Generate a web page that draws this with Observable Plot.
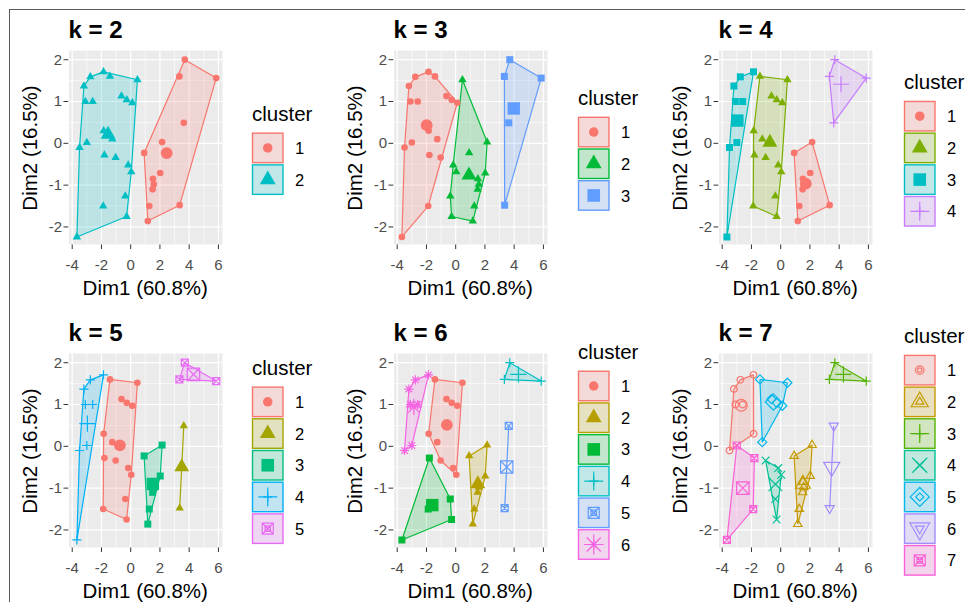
<!DOCTYPE html>
<html><head><meta charset="utf-8">
<script src="https://cdn.jsdelivr.net/npm/d3@7"></script>
<script src="https://cdn.jsdelivr.net/npm/@observablehq/plot@0.6"></script>
<style>
html,body{margin:0;padding:0;background:#fff;}
#root{position:relative;width:965px;height:602px;overflow:hidden;font-family:"Liberation Sans",Arial,sans-serif;}
.panel{position:absolute;width:240px;height:302px;}
.panel svg g[aria-label="x-axis tick label"], .panel svg g[aria-label="y-axis tick label"]{fill:#4D4D4D;}
#frame{position:absolute;left:9px;top:9px;width:1000px;height:700px;border-top:1.5px solid #5a5a5a;border-left:1.5px solid #5a5a5a;}
</style></head>
<body><div id="root"><div id="frame"></div></div>
<script>
// ---- data: PCA coordinates of the 35 observations ----
const dim1 = [-3.20,-2.76,-1.86,-3.10,-2.60,-1.85,-3.50,-3.00,-3.68,-1.80,-1.88,-1.42,0.46,-0.63,-0.27,0.11,-1.26,-1.03,-0.17,0.04,-0.37,-0.28,0.92,2.15,2.02,1.52,1.58,1.50,1.27,1.17,3.70,3.33,5.85,3.63,3.35];
const dim2 = [1.37,1.59,1.71,1.00,1.00,0.30,-0.10,0.02,-2.24,-0.28,-1.50,1.60,1.52,1.13,1.04,0.97,0.10,-0.34,-0.52,-0.68,-1.26,-1.75,-0.23,0.03,-0.71,-0.85,-0.98,-1.10,-1.50,-1.86,2.00,1.60,1.56,0.49,-1.48];
// ---- cluster assignments for each k ----
const clustersK2 = [2,2,2,2,2,2,2,2,2,2,2,2,2,2,2,2,2,2,2,2,2,2,1,1,1,1,1,1,1,1,1,1,1,1,1];
const clustersK3 = [1,1,1,1,1,1,1,1,1,1,1,1,2,1,1,1,1,1,2,2,2,2,2,2,2,2,2,2,2,2,3,3,3,3,3];
const clustersK4 = [3,3,3,3,3,2,3,3,3,2,2,2,2,2,2,2,2,2,2,2,2,2,1,1,1,1,1,1,1,1,4,4,4,4,1];
const clustersK5 = [4,4,4,4,4,1,4,4,4,1,1,1,1,1,1,1,1,1,1,1,1,1,3,3,3,3,3,3,3,3,5,5,5,2,2];
const clustersK6 = [6,6,6,6,6,1,6,6,3,3,3,1,1,1,1,1,1,1,1,1,3,3,2,2,2,2,2,2,2,2,4,4,4,5,5];
const clustersK7 = [1,1,1,1,1,1,1,7,7,7,7,5,5,5,5,5,5,4,4,4,4,4,2,2,2,2,2,2,2,2,3,3,3,6,6];
// ---- ticks ----
const tickX = [-4,-2,0,2,4,6];
const tickY = [-2,-1,0,1,2];
const minorX = [-3,-1,1,3,5];
const minorY = [-1.5,-0.5,0.5,1.5];
const xTitle = "Dim1 (60.8%)";
const yTitle = "Dim2 (16.5%)";
const legendTitle = "cluster";
// ---- palettes ----
const palettes = {
  2: ["#F8766D","#00BFC4"],
  3: ["#F8766D","#00BA38","#619CFF"],
  4: ["#F8766D","#7CAE00","#00BFC4","#C77CFF"],
  5: ["#F8766D","#A3A500","#00BF7D","#00B0F6","#E76BF3"],
  6: ["#F8766D","#B79F00","#00BA38","#00BFC4","#619CFF","#F564E3"],
  7: ["#F8766D","#C49A00","#53B400","#00C094","#00B6EB","#A58AFF","#FB61D7"]
};

// ---- symbol shapes (ggplot pch look-alikes) ----
const tri = (c,R,down)=>{const s=down?-1:1; c.moveTo(0,-R*s); c.lineTo(0.866*R,0.5*R*s); c.lineTo(-0.866*R,0.5*R*s); c.closePath();};
const circ = (c,r)=>{const a=0.95*r; c.moveTo(a,0); c.arc(0,0,a,0,2*Math.PI); c.closePath();};
const SHAPES = {
  circleF:{fill:true, f:circ, lg:[5.0]},
  triangleF:{fill:true, f:(c,r)=>tri(c,1.386*r,false), lg:[6.6]},
  squareF:{fill:true, f:(c,r)=>c.rect(-r,-r,2*r,2*r), lg:[6.3]},
  plus:{fill:false, f:(c,r)=>{const a=1.3*r; c.moveTo(-a,0); c.lineTo(a,0); c.moveTo(0,-a); c.lineTo(0,a);}, lg:[3.4,7.3]},
  times:{fill:false, f:(c,r)=>{const b=1.1*r; c.moveTo(-b,-b); c.lineTo(b,b); c.moveTo(-b,b); c.lineTo(b,-b);}, lg:[3.4,6.8]},
  boxX:{fill:false, f:(c,r)=>{c.rect(-r,-r,2*r,2*r); c.moveTo(-r,-r); c.lineTo(r,r); c.moveTo(-r,r); c.lineTo(r,-r);}, lg:[2.7,5.5]},
  asterisk:{fill:false, f:(c,r)=>{const a=1.3*r, b=0.92*r; c.moveTo(-a,0); c.lineTo(a,0); c.moveTo(0,-a); c.lineTo(0,a); c.moveTo(-b,-b); c.lineTo(b,b); c.moveTo(-b,b); c.lineTo(b,-b);}, lg:[3.4,7.6]},
  circleO:{fill:false, f:circ, lg:[2.3,4.5]},
  triangleO:{fill:false, f:(c,r)=>tri(c,1.386*r,false), lg:[3.4,7.1]},
  diamondO:{fill:false, f:(c,r)=>{const a=1.3*r; c.moveTo(0,-a); c.lineTo(a,0); c.lineTo(0,a); c.lineTo(-a,0); c.closePath();}, lg:[3.1,7.3]},
  triangleDownO:{fill:false, f:(c,r)=>tri(c,1.5*r,true), lg:[3.4,7.6]}
};
const plotSymbol = name => ({draw(ctx,size){ SHAPES[name].f(ctx, Math.sqrt(size/Math.PI)); }});
const shapeSetA = ["circleF","triangleF","squareF","plus","boxX","asterisk"];
const shapeSetB = ["circleO","triangleO","plus","times","diamondO","triangleDownO","boxX"];

// ---- layout ----
const panels = [
  {k:2, assign:clustersK2, col:0, row:0},
  {k:3, assign:clustersK3, col:1, row:0},
  {k:4, assign:clustersK4, col:2, row:0},
  {k:5, assign:clustersK5, col:0, row:1},
  {k:6, assign:clustersK6, col:1, row:1},
  {k:7, assign:clustersK7, col:2, row:1}
];
const colLeft = [0, 325, 650];
const rowTop = [0, 303];
const ML = 68.5, MR = 18, MT = 50, MB = 58, W = 240, H = 302;
const GW = W-ML-MR, GH = H-MT-MB;
const legendX = [252, 578, 904];
const legendCY = [150.5, 452];
const FONT = '"Liberation Sans", Arial, sans-serif';

const root = document.getElementById("root");

for (const p of panels) {
  const colors = palettes[p.k];
  const names = p.k <= 6 ? shapeSetA : shapeSetB;
  const rows = dim1.map((x,i)=>({x, y: dim2[i], cluster: p.assign[i]}));
  const ids = d3.range(1, p.k+1);
  const marks = [
    Plot.frame({fill:"#EBEBEB", stroke:"none"}),
    Plot.ruleX(minorX, {stroke:"white", strokeWidth:0.6}),
    Plot.ruleY(minorY, {stroke:"white", strokeWidth:0.6}),
    Plot.ruleX(tickX, {stroke:"white", strokeWidth:1.2}),
    Plot.ruleY(tickY, {stroke:"white", strokeWidth:1.2})
  ];
  for (const c of ids) {
    const d = rows.filter(r=>r.cluster===c);
    marks.push(Plot.hull(d, {x:"x", y:"y", fill:colors[c-1], fillOpacity:0.2, stroke:colors[c-1], strokeWidth:1.2}));
  }
  const sty = (c) => {
    const sh = SHAPES[names[c-1]];
    return sh.fill ? {fill:colors[c-1], stroke:"none"} : {fill:"none", stroke:colors[c-1], strokeWidth:1.2};
  };
  for (const c of ids) {
    const d = rows.filter(r=>r.cluster===c);
    marks.push(Plot.dot(d, {x:"x", y:"y", r:3.5, symbol:plotSymbol(names[c-1]), ...sty(c)}));
  }
  for (const c of ids) {
    const d = rows.filter(r=>r.cluster===c);
    marks.push(Plot.dot(d, Plot.groupZ({x:"mean", y:"mean"}, {x:"x", y:"y", r:6.2, symbol:plotSymbol(names[c-1]), ...sty(c)})));
  }
  const svg = Plot.plot({
    width: W, height: H,
    marginLeft: ML, marginRight: MR, marginTop: MT, marginBottom: MB,
    x: {domain:[-4.22, 6.28], ticks: tickX, tickFormat: d=>String(d), tickSize:5, tickPadding:10, label:null},
    y: {domain:[-2.42, 2.22], ticks: tickY, tickFormat: d=>String(d), tickSize:5, tickPadding:2, label:null},
    style: {fontSize:"15px", fontFamily:FONT, color:"#333333", background:"transparent", overflow:"visible", maxWidth:"none"},
    marks
  });
  const div = document.createElement("div");
  div.className = "panel";
  div.style.left = colLeft[p.col] + "px";
  div.style.top = rowTop[p.row] + "px";
  div.appendChild(svg);
  root.appendChild(div);
}

// ---- overlay: titles, axis titles, legends ----
const ov = d3.select(root).append("svg")
  .attr("width",965).attr("height",602)
  .style("position","absolute").style("left","0px").style("top","0px")
  .style("font-family", FONT).style("pointer-events","none");

for (const p of panels) {
  const gl = colLeft[p.col] + ML, gt = rowTop[p.row] + MT;
  ov.append("text").attr("x", gl).attr("y", gt-12.3)
    .attr("font-size", 24).attr("font-weight","bold").attr("fill","#000").text("k = " + p.k);
  ov.append("text").attr("x", gl + GW/2).attr("y", gt + GH + 51)
    .attr("font-size", 20.5).attr("text-anchor","middle").attr("fill","#000").text(xTitle);
  ov.append("text").attr("transform", `translate(${gl-31.5},${gt+GH/2+1}) rotate(-90)`)
    .attr("font-size", 20.5).attr("text-anchor","middle").attr("fill","#000").text(yTitle);

  // legend
  const colors = palettes[p.k];
  const names = p.k <= 6 ? shapeSetA : shapeSetB;
  const n = p.k, pitch = 31.7;
  const total = 25.3 + pitch*n;
  const top = legendCY[p.row] - total/2;
  const lx = legendX[p.col];
  const base = top + 15;
  ov.append("text").attr("x", lx).attr("y", base).attr("font-size", 20.5).attr("fill","#000").text(legendTitle);
  for (let i=0; i<n; i++) {
    const ky = base + 12 + i*pitch;
    const col = colors[i];
    const sh = SHAPES[names[i]];
    ov.append("rect").attr("x", lx+0.5).attr("y", ky).attr("width",30.5).attr("height",29.5).attr("fill","#F2F2F2");
    ov.append("rect").attr("x", lx+0.5).attr("y", ky).attr("width",30.5).attr("height",29.5)
      .attr("fill", col).attr("fill-opacity",0.2).attr("stroke", col).attr("stroke-width",1.4);
    for (const r of sh.lg) {
      const path = d3.path(); sh.f(path, r);
      ov.append("path").attr("transform",`translate(${lx+15.75},${ky+14.75})`).attr("d", path.toString())
        .attr("fill", sh.fill ? col : "none").attr("stroke", sh.fill ? "none" : col).attr("stroke-width", 1.2);
    }
    ov.append("text").attr("x", lx+43).attr("y", ky+20.8).attr("font-size",16.5).attr("fill","#000").text(String(i+1));
  }
}
</script></body></html>
